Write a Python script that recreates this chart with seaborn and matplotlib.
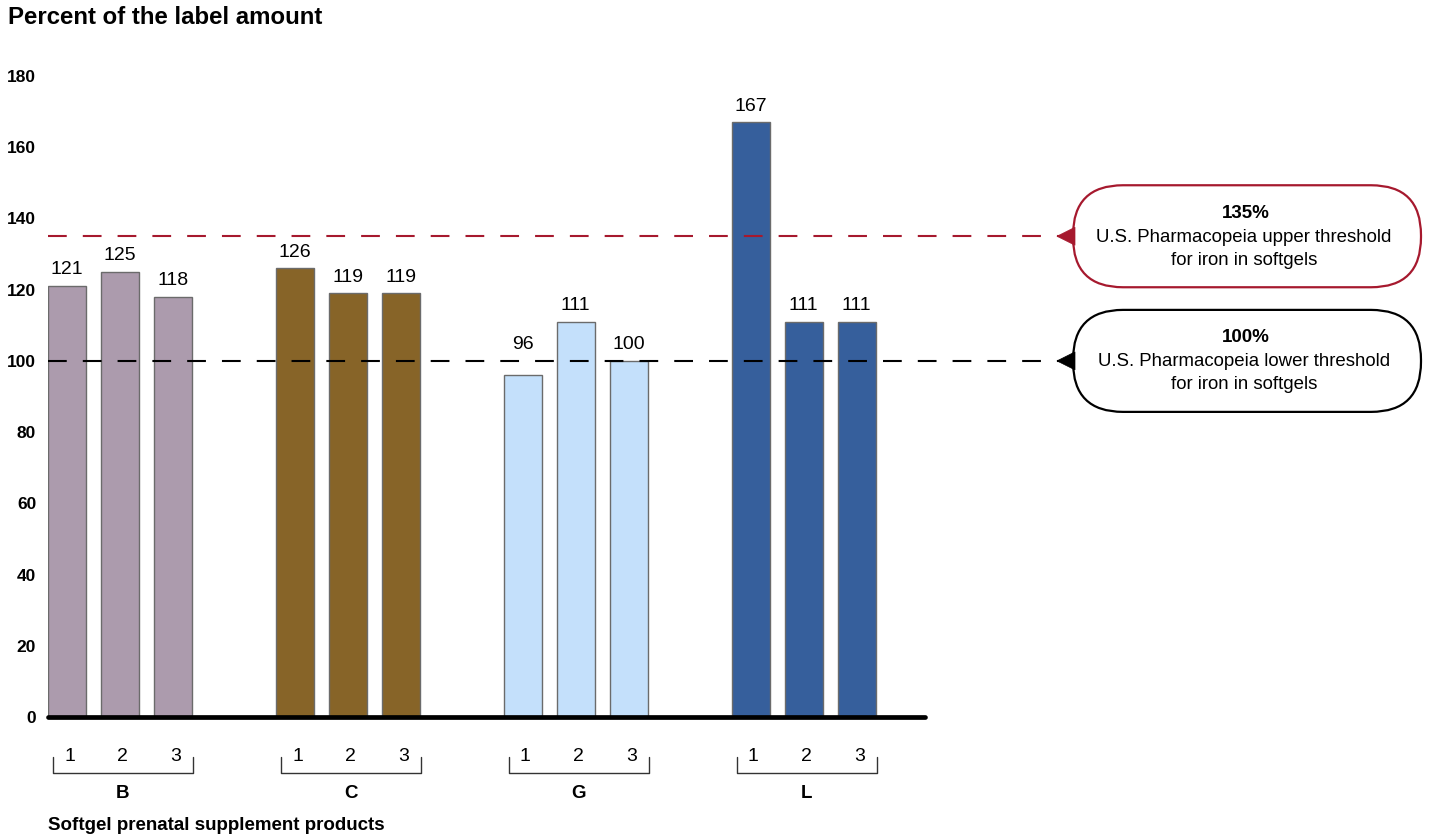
import numpy as np
import pandas as pd
import matplotlib
matplotlib.use("Agg")
import matplotlib.pyplot as plt
from matplotlib.patches import FancyBboxPatch, Polygon
import seaborn as sns

# data
products = ["B", "C", "G", "L"]
samples = ["1", "2", "3"]
values_B = [121, 125, 118]
values_C = [126, 119, 119]
values_G = [96, 111, 100]
values_L = [167, 111, 111]
upper_threshold = 135
lower_threshold = 100
colors = {"B": "#AC9BAD", "C": "#876428", "G": "#C4E0FB", "L": "#365F9C"}

sns.set_style("white")
plt.rcParams["font.family"] = ["Liberation Sans", "DejaVu Sans"]
plt.rcParams["text.color"] = "black"
plt.rcParams["ytick.color"] = "black"

group_step = 4.30  # distance between groups, in bar spacings
rows = []
for g, (prod, vals) in enumerate(zip(products, [values_B, values_C, values_G, values_L])):
    for s, v in enumerate(vals):
        rows.append({"product": prod, "sample": samples[s], "pos": g * group_step + s, "value": v})
df = pd.DataFrame(rows)

W, H = 1429, 839
fig = plt.figure(figsize=(W / 100, H / 100), dpi=100)
ax = fig.add_axes([48 / W, (H - 717) / H, 877 / W, 641 / H])

sns.barplot(data=df, x="pos", y="value", hue="product", palette=colors,
            native_scale=True, dodge=False, width=0.72, errorbar=None, saturation=1,
            edgecolor="#6b6b6b", linewidth=1.0, legend=False, ax=ax)

ax.set_xlim(-0.358, -0.358 + 877 / 53)
ax.set_ylim(0, 180)
ax.set_yticks(range(0, 181, 20))
ax.set_yticklabels([str(t) for t in range(0, 181, 20)], fontsize=12.5, fontweight="bold")
ax.tick_params(axis="y", length=0, pad=8.5)
ax.set_xticks([])
ax.set_xlabel("")
ax.set_ylabel("")
for sp in ax.spines.values():
    sp.set_visible(False)
ax.axhline(0, color="black", lw=3.4, zorder=5, clip_on=False)

# value labels (kept above the lower threshold line)
for _, r in df.iterrows():
    ax.annotate(str(r["value"]), (r["pos"], max(r["value"], lower_threshold)),
                xytext=(0, 5.5), textcoords="offset points",
                ha="center", va="bottom", fontsize=14)

# threshold lines
x_end = (1060 - 67) / 53
ax.plot([ax.get_xlim()[0], x_end], [upper_threshold] * 2, color="#A6192E",
        lw=1.5, ls=(0, (9, 7.7)), clip_on=False, zorder=4)
ax.plot([ax.get_xlim()[0], x_end], [lower_threshold] * 2, color="black",
        lw=1.5, ls=(0, (9, 7.7)), clip_on=False, zorder=4)

# sample numbers, brackets and group letters
for g, prod in enumerate(products):
    x0 = g * group_step
    for s, lab in enumerate(samples):
        ax.text(x0 + s + 0.05, -11.0, lab, ha="center", va="center", fontsize=14)
    ax.plot([x0 - 0.26, x0 - 0.26, x0 + 2.38, x0 + 2.38], [-11.3, -15.8, -15.8, -11.3],
            color="#333333", lw=1.0, clip_on=False)
    ax.text(x0 + 1.05, -21.4, prod, ha="center", va="center", fontsize=13.5, fontweight="bold")

fig.text(8 / W, 1 - 18 / H, "Percent of the label amount", fontsize=17.3,
         fontweight="bold", ha="left", va="center")
fig.text(48 / W, 1 - 826 / H, "Softgel prenatal supplement products", fontsize=13.5,
         fontweight="bold", ha="left", va="center")

# callouts drawn on a pixel overlay
ov = fig.add_axes([0, 0, 1, 1])
ov.set_xlim(0, W)
ov.set_ylim(H, 0)
ov.axis("off")
ov.patch.set_alpha(0)


def callout(value, color, head, line1, line2):
    yc = H - ax.transData.transform((0, value))[1]
    box = FancyBboxPatch((1073, yc - 51), 348, 102,
                         boxstyle="round,pad=0,rounding_size=50",
                         fc="white", ec=color, lw=1.6)
    ov.add_patch(box)
    ov.add_patch(Polygon([[1057, yc], [1075, yc - 9], [1075, yc + 9]],
                         closed=True, fc=color, ec=color, lw=0.5))
    ov.text(1246, yc - 23, head, ha="center", va="center", fontsize=13.5, fontweight="bold")
    ov.text(1244, yc + 1, line1, ha="center", va="center", fontsize=13.4)
    ov.text(1244, yc + 24, line2, ha="center", va="center", fontsize=13.4)


callout(upper_threshold, "#A6192E", "135%", "U.S. Pharmacopeia upper threshold", "for iron in softgels")
callout(lower_threshold, "black", "100%", "U.S. Pharmacopeia lower threshold", "for iron in softgels")

fig.savefig("out.png", dpi=100, facecolor="white")
